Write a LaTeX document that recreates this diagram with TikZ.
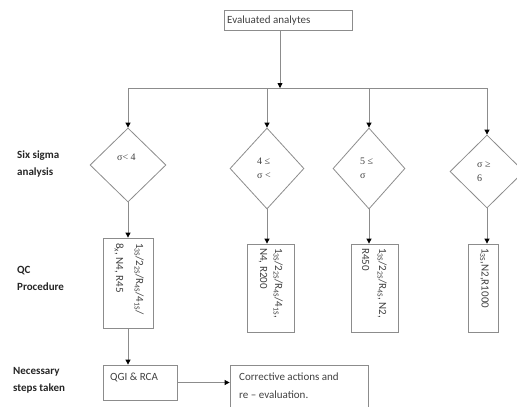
\documentclass[tikz,border=0pt]{standalone}
\usepackage{fontspec}
\setmainfont{Carlito}
\newfontfamily\serifdiag{Liberation Serif}
\usetikzlibrary{arrows.meta,shapes.geometric}
\definecolor{linegray}{HTML}{8C8C8C}
\definecolor{txtgray}{HTML}{404040}
\begin{document}
\begin{tikzpicture}[x=1bp,y=-1bp,
 box/.style={draw=linegray,line width=0.8bp,inner sep=0,rectangle},
 dia/.style={draw=linegray,line width=0.8bp,diamond,inner sep=0},
 arr/.style={draw=linegray,line width=0.8bp,-{Triangle[length=5bp,width=5bp,color=black]}},
 conn/.style={draw=linegray,line width=0.8bp},
 lbl/.style={font=\fontsize{11bp}{17bp}\selectfont\bfseries,text=black!85,align=left,anchor=west,inner sep=0},
 txt/.style={font=\fontsize{11bp}{18bp}\selectfont,text=txtgray,align=left,anchor=west,inner sep=0},
 dtxt/.style={font=\serifdiag\fontsize{10bp}{14bp}\selectfont,text=txtgray,align=left,anchor=west,inner sep=0},
 qtxt/.style={font=\fontsize{11bp}{#1}\selectfont,text=txtgray,align=left,rotate=-90,anchor=north west,inner sep=0},
]
\useasboundingbox (0,0) rectangle (517,406);
\clip (0,0) rectangle (517,406);

\node[box,minimum width=128bp,minimum height=20bp] (eval) at (288,20) {};
\node[txt] (evalt) at (227,20.5) {Evaluated analytes};

\coordinate (J) at (280,88);
\node[dia,minimum width=76bp,minimum height=74bp] (d1) at (128,165) {};
\node[dia,minimum width=74bp,minimum height=81bp] (d2) at (267,168.5) {};
\node[dia,minimum width=72bp,minimum height=81bp] (d3) at (369,168.5) {};
\node[dia,minimum width=74bp,minimum height=73bp] (d4) at (487,171.5) {};

\node[box,minimum width=50bp,minimum height=90bp] (q1) at (128,283) {};
\node[box,minimum width=47bp,minimum height=88bp] (q2) at (270.5,288) {};
\node[box,minimum width=47bp,minimum height=88bp] (q3) at (374.5,288) {};
\node[box,minimum width=30bp,minimum height=88bp] (q4) at (483,288) {};
\node[box,minimum width=74bp,minimum height=35bp] (qgi) at (140,382.5) {};
\node[box,minimum width=138bp,minimum height=47bp] (corr) at (299,388.5) {};

\coordinate (b1) at (d1.north |- J);
\coordinate (b2) at (d2.north |- J);
\coordinate (b3) at (d3.north |- J);
\coordinate (b4) at (d4.north |- J);
\draw[conn] (b1) -- (b4);
\draw[arr] (eval.south -| J) -- (J);
\draw[arr] (b1) -- (d1.north);
\draw[arr] (b2) -- (d2.north);
\draw[arr] (b3) -- (d3.north);
\draw[arr] (b4) -- (d4.north);
\draw[arr] (d1.south) -- (q1.north);
\draw[arr] (d2.south) -- (d2.south |- q2.north);
\draw[arr] (d3.south) -- (d3.south |- q3.north);
\draw[arr] (d4.south) -- (d4.south |- q4.north);
\draw[arr] (q1.south) -- (q1.south |- qgi.north);
\draw[arr] (qgi.east) -- (qgi.east -| corr.west);

\node[dtxt] (d1t) at (117,157) {σ< 4};
\node[dtxt] (d2t) at (257,168) {4 ≤\\σ <};
\node[dtxt] (d3t) at (360,168.5) {5 ≤\\σ};
\node[dtxt] (d4t) at (477,171.5) {σ ≥\\6};

\node[lbl] (l1) at (17,164) {Six sigma\\analysis};
\node[lbl] (l2) at (17,278.5) {QC\\Procedure};
\node[lbl] (l3) at (13,380) {Necessary\\steps taken};

\node[txt] (qgit) at (110,377) {QGI \& RCA};
\node[txt] (corrt) at (239,386) {Corrective actions and\\re – evaluation.};

\node[qtxt=20bp] (q1t) at (144,243) {1\textsubscript{3S}/2\textsubscript{2S}/R\textsubscript{4S}/4\textsubscript{1S}/\\8\textsubscript{x}, N4, R45};
\node[qtxt=15bp] (q2t) at (283,248) {1\textsubscript{3S}/2\textsubscript{2S}/R\textsubscript{4S}/4\textsubscript{1S},\\N4, R200};
\node[qtxt=17bp] (q3t) at (387,248) {1\textsubscript{3S}/2\textsubscript{2S}/R\textsubscript{4S}, N2,\\R450};
\node[qtxt=18bp] (q4t) at (489,248) {1\textsubscript{3S},N2,R1000};
\end{tikzpicture}
\end{document}
